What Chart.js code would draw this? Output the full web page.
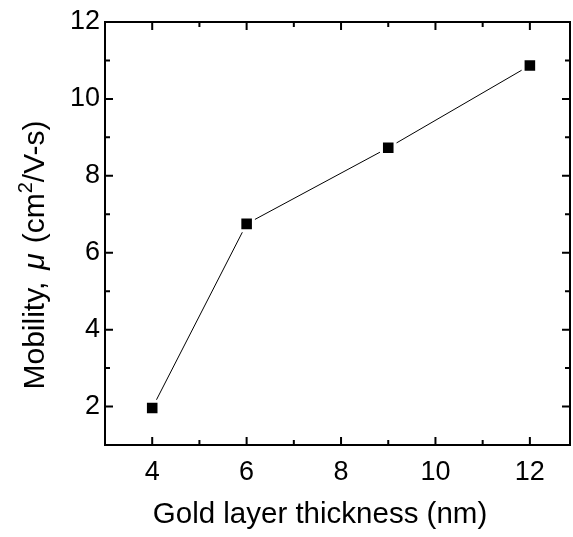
<!DOCTYPE html>
<html>
<head>
<meta charset="utf-8">
<script src="https://cdn.jsdelivr.net/npm/chart.js@4/dist/chart.umd.min.js"></script>
<style>
html,body{margin:0;padding:0;background:#fff;}
#wrap{width:573px;height:537px;position:relative;}
</style>
</head>
<body>
<div id="wrap"><canvas id="c" width="573" height="537"></canvas></div>
<script>
// Data
const thickness = [4, 6, 9, 12];
const mobility = [1.96, 6.75, 8.73, 10.87];
const xTickValues = [4, 6, 8, 10, 12];
const xMinorValues = [3, 5, 7, 9, 11];
const yTickValues = [2, 4, 6, 8, 10, 12];
const yMinorValues = [1, 3, 5, 7, 9, 11];
const xTitle = 'Gold layer thickness (nm)';

const FONT = "'Liberation Sans', Arial, sans-serif";

const framePlugin = {
  id: 'frame',
  afterDatasetsDraw(chart) {
    const ctx = chart.ctx;
    const a = chart.chartArea;
    const xs = chart.scales.x, ys = chart.scales.y;
    ctx.save();
    ctx.strokeStyle = '#000';
    ctx.lineWidth = 2;
    ctx.strokeRect(a.left, a.top, a.right - a.left, a.bottom - a.top);
    const major = 8, minor = 5;
    ctx.beginPath();
    const xt = (v, len) => {
      const p = xs.getPixelForValue(v);
      ctx.moveTo(p, a.bottom); ctx.lineTo(p, a.bottom - len);
      ctx.moveTo(p, a.top); ctx.lineTo(p, a.top + len);
    };
    const yt = (v, len) => {
      const p = ys.getPixelForValue(v);
      ctx.moveTo(a.left, p); ctx.lineTo(a.left + len, p);
      ctx.moveTo(a.right, p); ctx.lineTo(a.right - len, p);
    };
    xTickValues.forEach(v => xt(v, major));
    xMinorValues.forEach(v => xt(v, minor));
    yTickValues.forEach(v => yt(v, major));
    yMinorValues.forEach(v => yt(v, minor));
    ctx.stroke();

    ctx.fillStyle = '#000';
    // X-axis title
    ctx.font = '29.5px ' + FONT;
    ctx.textAlign = 'center';
    ctx.textBaseline = 'alphabetic';
    ctx.fillText(xTitle, 320, 523);

    // Y-axis title with italic mu and superscript
    const size = 30;
    const parts = [
      {t: 'Mobility,', f: size + 'px ' + FONT, dy: 0, gap: 12},
      {t: 'μ', f: 'italic ' + size + 'px ' + FONT, dy: 0, gap: 10},
      {t: '(cm', f: size + 'px ' + FONT, dy: 0, gap: 0},
      {t: '2', f: Math.round(size * 0.66) + 'px ' + FONT, dy: -size * 0.4, gap: 0},
      {t: '/V-s)', f: size + 'px ' + FONT, dy: 0, gap: 0}
    ];
    let total = 0;
    parts.forEach(p => { ctx.font = p.f; p.w = ctx.measureText(p.t).width; total += p.w + p.gap; });
    ctx.translate(44, 255);
    ctx.rotate(-Math.PI / 2);
    ctx.textAlign = 'left';
    let x = -total / 2;
    parts.forEach(p => { ctx.font = p.f; ctx.fillText(p.t, x, p.dy); x += p.w + p.gap; });
    ctx.restore();
  }
};

new Chart(document.getElementById('c'), {
  type: 'line',
  data: {
    datasets: [{
      data: thickness.map((x, i) => ({x: x, y: mobility[i]})),
      borderColor: '#000',
      borderWidth: 1,
      backgroundColor: '#000',
      pointStyle: 'rect',
      pointRadius: 9.6,
      pointBackgroundColor: '#000',
      pointBorderColor: '#fff',
      pointBorderWidth: 3,
      tension: 0
    }]
  },
  options: {
    responsive: false,
    animation: false,
    layout: {autoPadding: false, padding: {top: 22, right: 3, left: 0, bottom: 0}},
    plugins: {legend: {display: false}, tooltip: {enabled: false}},
    scales: {
      x: {
        type: 'linear',
        min: 3, max: 12.85,
        afterBuildTicks: s => { s.ticks = xTickValues.map(v => ({value: v})); },
        afterFit: s => { s.height = 92; s.paddingLeft = 0; s.paddingRight = 0; },
        grid: {display: false, drawTicks: false},
        border: {display: false},
        ticks: {color: '#000', font: {family: FONT, size: 27}, padding: 11, maxRotation: 0, autoSkip: false}
      },
      y: {
        type: 'linear',
        min: 1, max: 12,
        afterBuildTicks: s => { s.ticks = yTickValues.map(v => ({value: v})); },
        afterFit: s => { s.width = 105; s.paddingTop = 0; s.paddingBottom = 0; },
        grid: {display: false, drawTicks: false},
        border: {display: false},
        ticks: {color: '#000', font: {family: FONT, size: 27}, padding: 5, autoSkip: false}
      }
    }
  },
  plugins: [framePlugin]
});
</script>
</body>
</html>
